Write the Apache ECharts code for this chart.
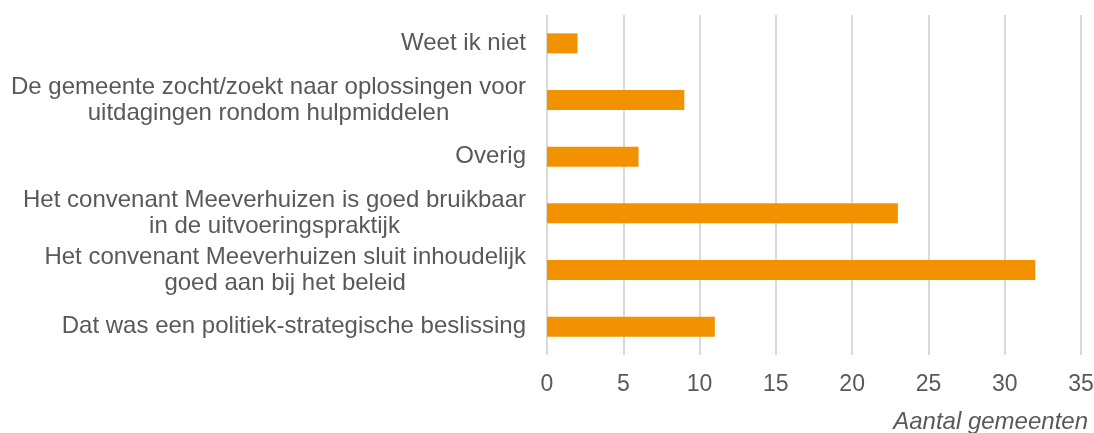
<!DOCTYPE html>
<html>
<head>
<meta charset="utf-8">
<script src="https://cdn.jsdelivr.net/npm/echarts@6/dist/echarts.min.js"></script>
<style>
  html, body { margin: 0; padding: 0; background: #fff; }
  #main { width: 1094px; height: 433px; }
</style>
</head>
<body>
<div id="main"></div>
<script>
const dom = document.getElementById('main');

// bottom to top, as the axis draws them
const categories = [
  'Dat was een politiek-strategische beslissing',
  'Het convenant Meeverhuizen sluit inhoudelijk\ngoed aan bij het beleid',
  'Het convenant Meeverhuizen is goed bruikbaar\nin de uitvoeringspraktijk',
  'Overig',
  'De gemeente zocht/zoekt naar oplossingen voor\nuitdagingen rondom hulpmiddelen',
  'Weet ik niet',
];
const counts = [11, 32, 23, 6, 9, 2];
const axisTitle = 'Aantal gemeenten';

const textColor = '#595959';
const font = '"Liberation Sans", Arial, sans-serif';

function getChartOptions() {
  return {
    animation: false,
    grid: { left: 547, right: 13, top: 15, bottom: 78, outerBoundsMode: 'none' },
    xAxis: {
      type: 'value',
      min: 0,
      max: 35,
      interval: 5,
      axisLine: { show: false },
      axisTick: { show: false },
      splitLine: { lineStyle: { color: '#d9d9d9', width: 2 } },
      axisLabel: { color: textColor, fontFamily: font, fontSize: 23, margin: 18 },
    },
    yAxis: {
      type: 'category',
      data: categories,
      axisLine: { show: false },
      axisTick: { show: false },
      axisLabel: {
        margin: 21,
        formatter: (v) => v.split('\n').map((l) => '{c|' + l + '}').join('\n'),
        rich: {
          c: { align: 'center', color: textColor, fontFamily: font, fontSize: 24, lineHeight: 26 },
        },
      },
    },
    graphic: [
      {
        type: 'text',
        right: 6,
        top: 410,
        style: {
          text: axisTitle,
          fill: textColor,
          font: 'italic 24px ' + font,
        },
      },
    ],
    series: [
      {
        type: 'bar',
        data: counts,
        barWidth: 20,
        itemStyle: { color: '#f39200' },
      },
    ],
  };
}

const myChart = echarts.init(dom);
myChart.setOption(getChartOptions());
</script>
</body>
</html>
